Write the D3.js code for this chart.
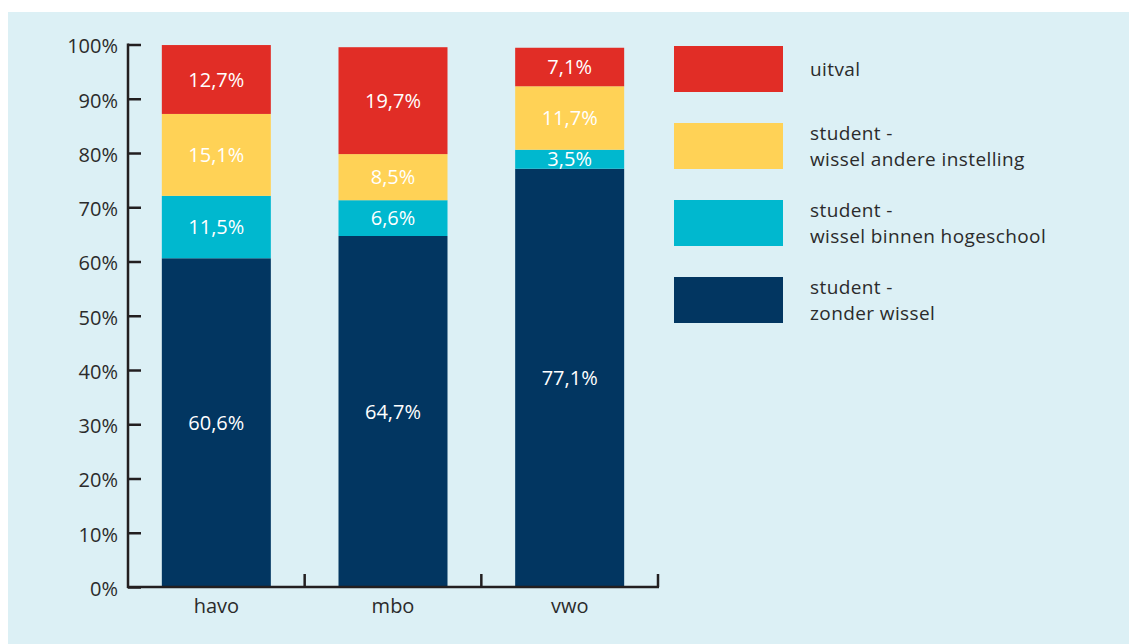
<!DOCTYPE html>
<html>
<head>
<meta charset="utf-8">
<script src="https://cdn.jsdelivr.net/npm/d3@7"></script>
<style>
  body { margin: 0; background: #ffffff; }
  svg { display: block; }
  text { font-family: "Open Sans", sans-serif; }
</style>
</head>
<body>
<div id="chart"></div>
<script>
// data
var categories = ["havo", "mbo", "vwo"];
var seriesNames = ["zonder", "binnen", "andere", "uitval"];
var zonderWissel = [60.6, 64.7, 77.1];
var wisselBinnen = [11.5, 6.6, 3.5];
var wisselAndere = [15.1, 8.5, 11.7];
var uitval = [12.7, 19.7, 7.1];
var yTicks = [0, 10, 20, 30, 40, 50, 60, 70, 80, 90, 100];
var legendItems = [
  { key: "uitval", lines: ["uitval"] },
  { key: "andere", lines: ["student -", "wissel andere instelling"] },
  { key: "binnen", lines: ["student -", "wissel binnen hogeschool"] },
  { key: "zonder", lines: ["student -", "zonder wissel"] }
];

var colors = { zonder: "#023661", binnen: "#00b8cf", andere: "#ffd256", uitval: "#e12d26" };
var axisColor = "#231f20";
var textColor = "#2b2b2b";

var width = 1129, height = 644;
var svg = d3.select("#chart").append("svg")
  .attr("width", width)
  .attr("height", height);

// achtergrond paneel
svg.append("rect")
  .attr("x", 8).attr("y", 12)
  .attr("width", width - 8).attr("height", height - 12)
  .attr("fill", "#dcf0f5");

var plot = { left: 128, right: 658, top: 44.5, bottom: 587 };

var x = d3.scaleBand()
  .domain(categories)
  .range([plot.left, plot.right])
  .padding(0);
var barWidth = x.bandwidth() * 0.617;

var y = d3.scaleLinear()
  .domain([0, 100])
  .range([plot.bottom, plot.top]);

// stack
var table = categories.map(function (c, i) {
  return { cat: c, zonder: zonderWissel[i], binnen: wisselBinnen[i], andere: wisselAndere[i], uitval: uitval[i] };
});
var stacked = d3.stack().keys(seriesNames)(table);

var gBars = svg.append("g");
stacked.forEach(function (layer) {
  var g = gBars.append("g").attr("fill", colors[layer.key]);
  g.selectAll("rect")
    .data(layer)
    .enter()
    .append("rect")
    .attr("x", function (d) { return x(d.data.cat) + (x.bandwidth() - barWidth) / 2; })
    .attr("y", function (d) { return y(d[1]); })
    .attr("width", barWidth)
    .attr("height", function (d) { return y(d[0]) - y(d[1]); });
  g.selectAll("text")
    .data(layer)
    .enter()
    .append("text")
    .attr("x", function (d) { return x(d.data.cat) + x.bandwidth() / 2; })
    .attr("y", function (d) { return y((d[0] + d[1]) / 2); })
    .attr("dy", "0.36em")
    .attr("text-anchor", "middle")
    .attr("font-size", "20px")
    .attr("fill", "#ffffff")
    .text(function (d) { return d3.format(".1f")(d[1] - d[0]).replace(".", ",") + "%"; });
});

// y-as
var yAxis = d3.axisRight(y)
  .tickValues(yTicks)
  .tickSize(13)
  .tickFormat(function (d) { return d + "%"; });
var gy = svg.append("g")
  .attr("transform", "translate(" + plot.left + ",0)")
  .call(yAxis);
gy.select(".domain").remove();
gy.selectAll("line").attr("stroke", axisColor).attr("stroke-width", 2.5);
gy.selectAll("text")
  .attr("x", -10)
  .attr("dy", "0.42em")
  .attr("text-anchor", "end")
  .attr("font-size", "20px")
  .attr("font-family", "Open Sans, sans-serif")
  .attr("fill", textColor);
svg.append("line")
  .attr("x1", plot.left).attr("x2", plot.left)
  .attr("y1", y(100) - 1).attr("y2", plot.bottom + 1)
  .attr("stroke", axisColor).attr("stroke-width", 2.5);

// x-as
var xAxis = d3.axisBottom(x).tickSize(0).tickPadding(10);
var gx = svg.append("g")
  .attr("transform", "translate(0," + plot.bottom + ")")
  .call(xAxis);
gx.select(".domain").remove();
gx.selectAll("text")
  .attr("font-size", "20px")
  .attr("font-family", "Open Sans, sans-serif")
  .attr("dy", "0.8em")
  .attr("fill", textColor);
svg.append("line")
  .attr("x1", plot.left - 1).attr("x2", plot.right + 1)
  .attr("y1", plot.bottom).attr("y2", plot.bottom)
  .attr("stroke", axisColor).attr("stroke-width", 2.5);
// scheidingsstreepjes tussen categorieën
svg.append("g").selectAll("line")
  .data(categories)
  .enter()
  .append("line")
  .attr("x1", function (d) { return x(d) + x.bandwidth(); })
  .attr("x2", function (d) { return x(d) + x.bandwidth(); })
  .attr("y1", plot.bottom - 13)
  .attr("y2", plot.bottom)
  .attr("stroke", axisColor)
  .attr("stroke-width", 2.5);

// legenda
var legend = svg.append("g").attr("transform", "translate(674,46)");
var item = legend.selectAll("g")
  .data(legendItems)
  .enter()
  .append("g")
  .attr("transform", function (d, i) { return "translate(0," + (i * 77) + ")"; });
item.append("rect")
  .attr("width", 109)
  .attr("height", 46)
  .attr("fill", function (d) { return colors[d.key]; });
// elke regel als eigen text element
item.each(function (d) {
  var g = d3.select(this);
  var startY = d.lines.length === 1 ? 30 : 17;
  d.lines.forEach(function (l, j) {
    g.append("text")
      .attr("x", 136)
      .attr("y", startY + j * 26)
      .attr("font-size", "19px")
      .attr("letter-spacing", "0.4px")
      .attr("fill", textColor)
      .text(l);
  });
});
</script>
</body>
</html>
